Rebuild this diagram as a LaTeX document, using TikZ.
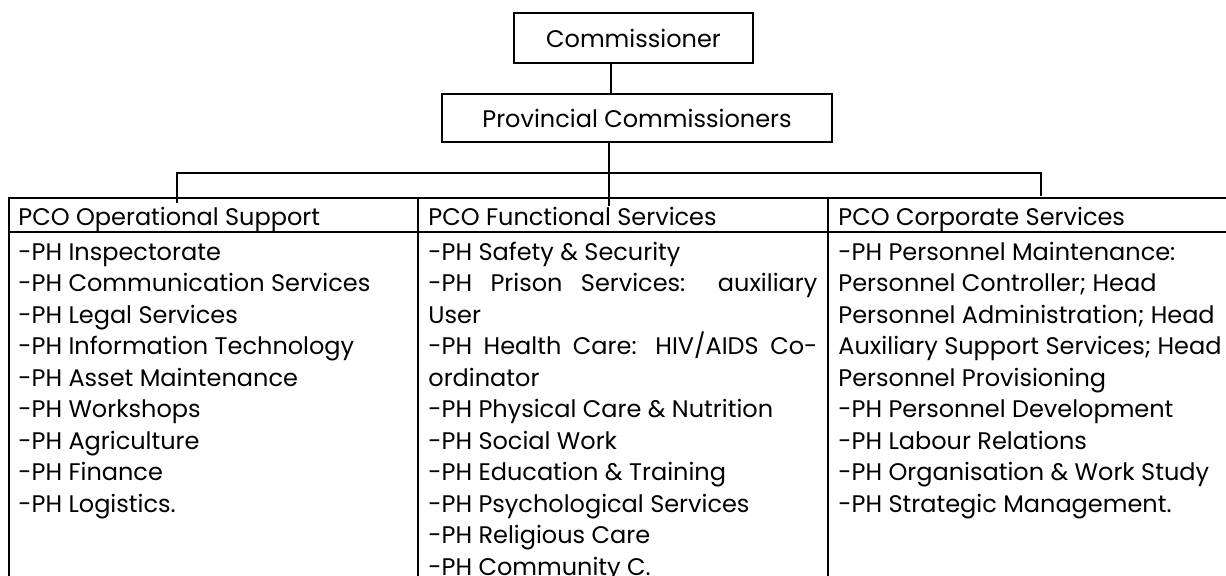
\documentclass[tikz,border=0pt]{standalone}
\usepackage{fontspec}
\setmainfont{Poppins}
\usetikzlibrary{positioning}

\begin{document}
\begin{tikzpicture}[
      x=0.5pt, y=-0.5pt,
      font=\fontsize{12}{14}\selectfont,
      box/.style={
        draw,
        line width=0.8pt,
        inner sep=0pt
      },
      link/.style={
        line width=0.7pt
      },
      grid/.style={
        line width=1pt
      },
      item/.style={
        anchor=base west,
        inner sep=0pt
      },
    ]

    \clip (0,0) rectangle (1226,575);

    % top of the chart
    \node [box, minimum width=119.5pt, minimum height=25pt] (comm) at (633.5,38) {Commissioner};
    \node [box, minimum width=195pt, minimum height=24pt] (prov) at (637,118) {Provincial Commissioners};

    \coordinate (upper) at (611,80);
    \coordinate (trunk) at (609,173);
    \coordinate (busL) at (177,173);
    \coordinate (busR) at (1041,173);

    % table of the three offices
    \draw [grid] (9,600) |- (1250,198);
    \draw [grid] (9,232) -- (1250,232);
    \draw [grid] (418,198) -- (418,600);
    \draw [grid] (828,198) -- (828,600);

    \node [item] (opsHead) at (18,225) {PCO Operational Support};
    \node [item] (funHead) at (428,225) {PCO Functional Services};
    \node [item] (corHead) at (838,225) {PCO Corporate Services};

    \foreach \txt [count=\i from 0] in {
        -PH Inspectorate,
        -PH Communication Services,
        -PH Legal Services,
        -PH Information Technology,
        -PH Asset Maintenance,
        -PH Workshops,
        -PH Agriculture,
        -PH Finance,
        -PH Logistics.}
      \node [item] (ops\i) at (18,260+31.5*\i) {\txt};

    \foreach \txt [count=\i from 0] in {
        -PH Safety \& Security,
        \makebox[194.5pt][s]{-PH Prison Services: auxiliary},
        User,
        \makebox[194.5pt][s]{-PH Health Care: HIV/AIDS Co-},
        ordinator,
        -PH Physical Care \& Nutrition,
        -PH Social Work,
        -PH Education \& Training,
        -PH Psychological Services,
        -PH Religious Care,
        -PH Community C.}
      \node [item] (fun\i) at (428,260+31.5*\i) {\txt};

    \foreach \txt [count=\i from 0] in {
        -PH Personnel Maintenance:,
        Personnel Controller; Head,
        Personnel Administration; Head,
        Auxiliary Support Services; Head,
        Personnel Provisioning,
        -PH Personnel Development,
        -PH Labour Relations,
        -PH Organisation \& Work Study,
        -PH Strategic Management.}
      \node [item] (cor\i) at (838,260+31.5*\i) {\txt};

    % connectors
    \draw [link] (comm.south -| upper) -- (prov.north -| upper);
    \draw [link] (prov.south -| trunk) -- (trunk) -- (funHead.north -| trunk);
    \draw [link] (busL |- opsHead.north) ++(0,-3) -- (busL) -- (busR) -- ++(0,23);
  \end{tikzpicture}
\end{document}
